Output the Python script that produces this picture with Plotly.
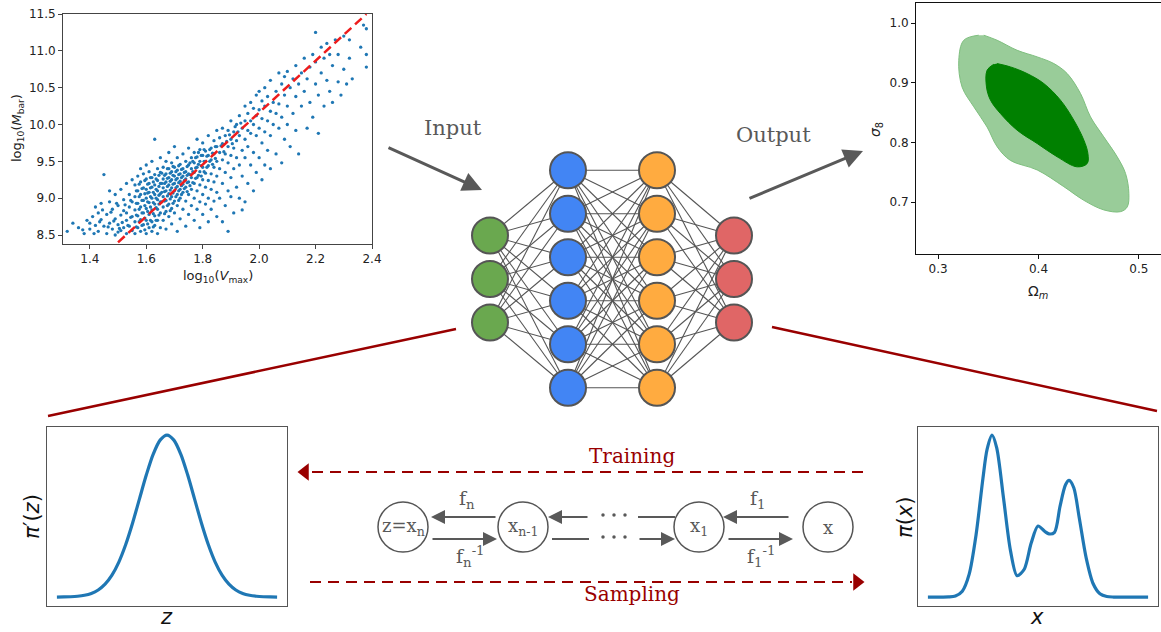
import plotly.graph_objects as go

W, H = 1161, 632

# ---------------------------------------------------------------------------
# Galaxy sample: log10(Vmax) vs log10(Mbar), grouped by Vmax band
band_a = [(1.32, 8.55), (1.34, 8.66), (1.36, 8.60), (1.38, 8.52), (1.39, 8.70), (1.40, 8.58),
          (1.41, 8.75), (1.42, 8.63), (1.42, 8.88), (1.43, 8.55), (1.44, 8.71), (1.44, 8.93),
          (1.45, 8.62), (1.45, 9.32), (1.43, 8.80), (1.40, 8.66), (1.375, 8.57), (1.415, 8.52),
          (1.435, 8.68), (1.445, 8.84)]
band_b = [(1.46, 8.52), (1.46, 8.78), (1.47, 8.66), (1.47, 8.95), (1.48, 8.58), (1.48, 8.85),
          (1.49, 8.72), (1.49, 9.05), (1.50, 8.54), (1.50, 8.64), (1.50, 8.90), (1.51, 8.77),
          (1.51, 9.12), (1.52, 8.60), (1.52, 8.83), (1.52, 8.98), (1.53, 8.52), (1.53, 8.70),
          (1.53, 9.20), (1.54, 8.88), (1.54, 8.62), (1.54, 9.05), (1.55, 8.56), (1.55, 8.75),
          (1.55, 8.95), (1.55, 9.25), (1.47, 9.10), (1.49, 8.50), (1.51, 8.56), (1.53, 8.80),
          (1.465, 8.61), (1.475, 8.81), (1.485, 8.69), (1.495, 8.93), (1.505, 8.59),
          (1.515, 8.67), (1.525, 8.91), (1.535, 8.63), (1.545, 8.74), (1.545, 8.97)]
band_c = [(1.56, 8.52), (1.56, 8.68), (1.56, 8.84), (1.56, 9.02), (1.56, 9.18), (1.57, 8.60),
          (1.57, 8.76), (1.57, 8.93), (1.57, 9.10), (1.57, 9.30), (1.58, 8.55), (1.58, 8.71),
          (1.58, 8.88), (1.58, 9.05), (1.58, 9.22), (1.58, 9.40), (1.59, 8.64), (1.59, 8.80),
          (1.59, 8.97), (1.59, 9.14), (1.59, 9.33), (1.60, 8.52), (1.60, 8.70), (1.60, 8.86),
          (1.60, 9.00), (1.60, 9.12), (1.60, 9.26), (1.60, 9.45), (1.61, 8.60), (1.61, 8.78),
          (1.61, 8.94), (1.61, 9.08), (1.61, 9.20), (1.61, 9.36), (1.62, 8.55), (1.62, 8.68),
          (1.62, 8.84), (1.62, 9.00), (1.62, 9.15), (1.62, 9.28), (1.62, 9.50), (1.63, 8.63),
          (1.63, 8.76), (1.63, 8.92), (1.63, 9.05), (1.63, 9.18), (1.63, 9.32), (1.63, 9.80),
          (1.64, 8.52), (1.64, 8.70), (1.64, 8.85), (1.64, 8.98), (1.64, 9.10), (1.64, 9.24),
          (1.64, 9.40), (1.65, 8.60), (1.65, 8.80), (1.65, 8.95), (1.65, 9.06), (1.65, 9.20),
          (1.65, 9.35), (1.65, 9.55)]
band_c2 = [(1.565, 8.61), (1.565, 8.77), (1.565, 8.93), (1.565, 9.10), (1.575, 8.68),
           (1.575, 8.85), (1.575, 9.02), (1.575, 9.19), (1.585, 8.63), (1.585, 8.80),
           (1.585, 8.97), (1.585, 9.13), (1.595, 8.57), (1.595, 8.73), (1.595, 8.90),
           (1.595, 9.06), (1.595, 9.24), (1.605, 8.65), (1.605, 8.82), (1.605, 8.95),
           (1.605, 9.07), (1.605, 9.19), (1.615, 8.70), (1.615, 8.88), (1.615, 9.02),
           (1.615, 9.14), (1.615, 9.28), (1.625, 8.61), (1.625, 8.79), (1.625, 8.94),
           (1.625, 9.08), (1.625, 9.22), (1.635, 8.70), (1.635, 8.87), (1.635, 9.00),
           (1.635, 9.12), (1.635, 9.26), (1.645, 8.77), (1.645, 8.92), (1.645, 9.04),
           (1.645, 9.16), (1.645, 9.31)]
band_d = [(1.66, 8.70), (1.66, 8.88), (1.66, 9.02), (1.66, 9.14), (1.66, 9.26), (1.66, 9.42),
          (1.67, 8.58), (1.67, 8.82), (1.67, 8.97), (1.67, 9.10), (1.67, 9.22), (1.67, 9.33),
          (1.67, 9.50), (1.68, 8.75), (1.68, 8.92), (1.68, 9.06), (1.68, 9.18), (1.68, 9.28),
          (1.68, 9.40), (1.68, 9.62), (1.69, 8.65), (1.69, 8.86), (1.69, 9.02), (1.69, 9.14),
          (1.69, 9.25), (1.69, 9.36), (1.69, 9.48), (1.70, 8.80), (1.70, 8.96), (1.70, 9.10),
          (1.70, 9.20), (1.70, 9.30), (1.70, 9.42), (1.70, 9.70), (1.71, 8.55), (1.71, 8.90),
          (1.71, 9.05), (1.71, 9.16), (1.71, 9.27), (1.71, 9.38), (1.71, 9.55), (1.72, 8.72),
          (1.72, 9.00), (1.72, 9.12), (1.72, 9.23), (1.72, 9.33), (1.72, 9.46), (1.73, 8.85),
          (1.73, 9.08), (1.73, 9.19), (1.73, 9.30), (1.73, 9.40), (1.73, 9.60), (1.74, 8.62),
          (1.74, 8.96), (1.74, 9.15), (1.74, 9.26), (1.74, 9.36), (1.74, 9.50), (1.75, 8.78),
          (1.75, 9.05), (1.75, 9.22), (1.75, 9.33), (1.75, 9.45), (1.75, 9.68)]
band_d2 = [(1.655, 8.95), (1.655, 9.08), (1.655, 9.20), (1.655, 9.34), (1.665, 8.79),
           (1.665, 8.96), (1.665, 9.09), (1.665, 9.20), (1.665, 9.31), (1.675, 8.90),
           (1.675, 9.03), (1.675, 9.16), (1.675, 9.27), (1.675, 9.40), (1.685, 8.83),
           (1.685, 8.99), (1.685, 9.11), (1.685, 9.23), (1.685, 9.34), (1.695, 8.93),
           (1.695, 9.07), (1.695, 9.19), (1.695, 9.31), (1.695, 9.43), (1.705, 9.02),
           (1.705, 9.14), (1.705, 9.25), (1.705, 9.36), (1.715, 8.97), (1.715, 9.10),
           (1.715, 9.21), (1.715, 9.32), (1.715, 9.44), (1.725, 9.05), (1.725, 9.17),
           (1.725, 9.28), (1.725, 9.39), (1.735, 9.13), (1.735, 9.24), (1.735, 9.35),
           (1.745, 9.09), (1.745, 9.21), (1.745, 9.31), (1.745, 9.43)]
band_e = [(1.76, 8.90), (1.76, 9.12), (1.76, 9.28), (1.76, 9.40), (1.76, 9.55), (1.77, 8.70),
          (1.77, 9.00), (1.77, 9.20), (1.77, 9.35), (1.77, 9.48), (1.77, 9.62), (1.78, 8.85),
          (1.78, 9.10), (1.78, 9.28), (1.78, 9.42), (1.78, 9.56), (1.78, 9.80), (1.79, 8.60),
          (1.79, 8.95), (1.79, 9.18), (1.79, 9.36), (1.79, 9.50), (1.79, 9.66), (1.80, 8.78),
          (1.80, 9.05), (1.80, 9.25), (1.80, 9.42), (1.80, 9.58), (1.80, 9.75), (1.81, 8.92),
          (1.81, 9.15), (1.81, 9.34), (1.81, 9.50), (1.81, 9.64), (1.82, 8.68), (1.82, 9.00),
          (1.82, 9.24), (1.82, 9.44), (1.82, 9.58), (1.82, 9.85), (1.83, 8.85), (1.83, 9.12),
          (1.83, 9.33), (1.83, 9.52), (1.83, 9.68), (1.84, 8.96), (1.84, 9.22), (1.84, 9.42),
          (1.84, 9.60), (1.84, 9.78), (1.85, 8.75), (1.85, 9.08), (1.85, 9.30), (1.85, 9.50),
          (1.85, 9.70), (1.85, 9.92)]
band_e2 = [(1.755, 9.17), (1.755, 9.32), (1.755, 9.48), (1.765, 9.21), (1.765, 9.36),
           (1.765, 9.50), (1.775, 9.27), (1.775, 9.41), (1.775, 9.55), (1.785, 9.31),
           (1.785, 9.46), (1.785, 9.62), (1.795, 9.30), (1.795, 9.44), (1.795, 9.58),
           (1.805, 9.36), (1.805, 9.50), (1.805, 9.66), (1.815, 9.42), (1.815, 9.57),
           (1.825, 9.50), (1.825, 9.66), (1.835, 9.46), (1.835, 9.61), (1.845, 9.54),
           (1.845, 9.70)]
band_f = [(1.86, 9.00), (1.86, 9.40), (1.86, 9.62), (1.86, 9.82), (1.87, 8.68), (1.87, 9.20),
          (1.87, 9.52), (1.87, 9.74), (1.87, 9.95), (1.88, 8.90), (1.88, 9.35), (1.88, 9.60),
          (1.88, 9.85), (1.89, 9.10), (1.89, 9.48), (1.89, 9.70), (1.89, 9.92), (1.89, 8.55),
          (1.90, 9.28), (1.90, 9.58), (1.90, 9.80), (1.90, 10.05), (1.91, 8.80), (1.91, 9.40),
          (1.91, 9.68), (1.91, 9.90), (1.92, 9.15), (1.92, 9.55), (1.92, 9.78), (1.92, 10.00),
          (1.93, 9.00), (1.93, 9.45), (1.93, 9.85), (1.93, 10.12), (1.94, 9.30), (1.94, 9.65),
          (1.94, 9.95), (1.95, 8.95), (1.95, 9.55), (1.95, 9.80), (1.95, 10.05), (1.95, 10.25),
          (1.94, 8.84), (1.90, 9.02), (1.865, 9.71), (1.875, 9.63), (1.885, 9.77),
          (1.895, 9.86), (1.905, 9.74), (1.915, 9.97), (1.925, 9.90), (1.935, 10.02)]
band_g = [(1.96, 9.20), (1.96, 9.70), (1.96, 9.92), (1.96, 10.15), (1.97, 9.45), (1.97, 9.88),
          (1.97, 10.05), (1.97, 10.30), (1.98, 9.10), (1.98, 9.62), (1.98, 10.00), (1.98, 10.22),
          (1.99, 9.35), (1.99, 9.85), (1.99, 10.12), (1.99, 10.40), (2.00, 9.55), (2.00, 9.95),
          (2.00, 10.20), (2.00, 10.45), (2.01, 9.25), (2.01, 9.75), (2.01, 10.08), (2.01, 10.32),
          (2.02, 9.45), (2.02, 9.90), (2.02, 10.25), (2.02, 10.50), (2.03, 9.65), (2.03, 10.05),
          (2.03, 10.38), (2.04, 9.40), (2.04, 9.85), (2.04, 10.18), (2.04, 10.60), (2.05, 10.00),
          (2.05, 10.30)]
band_h = [(2.06, 9.60), (2.06, 10.15), (2.06, 10.45), (2.07, 9.95), (2.07, 10.28), (2.07, 10.70),
          (2.08, 9.48), (2.08, 10.10), (2.08, 10.55), (2.09, 9.80), (2.09, 10.40), (2.09, 10.65),
          (2.10, 10.00), (2.10, 10.25), (2.10, 10.72), (2.11, 9.70), (2.11, 10.50), (2.12, 10.15),
          (2.12, 10.62), (2.13, 9.92), (2.13, 10.38), (2.13, 10.80), (2.14, 10.55), (2.14, 9.60),
          (2.15, 10.25), (2.15, 10.70)]
band_i = [(2.16, 10.45), (2.16, 10.90), (2.17, 9.95), (2.17, 10.62), (2.18, 10.30), (2.18, 10.78),
          (2.19, 10.10), (2.19, 10.95), (2.20, 10.55), (2.20, 10.85), (2.21, 9.88), (2.21, 10.40),
          (2.22, 10.70), (2.22, 11.05), (2.23, 10.25), (2.23, 10.90), (2.24, 10.60), (2.24, 11.10),
          (2.25, 10.45), (2.25, 10.95)]
band_j = [(2.26, 10.30), (2.26, 10.80), (2.27, 11.15), (2.28, 10.58), (2.28, 10.95), (2.29, 10.40),
          (2.30, 10.75), (2.30, 11.20), (2.31, 10.55), (2.32, 10.90), (2.32, 11.15), (2.33, 10.62),
          (2.36, 11.05), (2.37, 11.35), (2.38, 10.95), (2.38, 10.78), (2.38, 11.30), (2.20, 11.25)]

# Best-fit relation
fit_logv = [1.50, 2.38]
fit_logm = [8.40, 11.50]

# ---------------------------------------------------------------------------
# Posterior on (Omega_m, sigma_8): outer and inner credible regions
omega_outer = [0.3405, 0.3256, 0.3206, 0.3239, 0.3355, 0.3488, 0.3588, 0.372, 0.3987, 0.4252,
               0.4452, 0.465, 0.4817, 0.4884, 0.490, 0.4867, 0.4784, 0.465, 0.4518, 0.4419,
               0.4286, 0.4153, 0.3987, 0.3787, 0.3588, 0.3455]
sigma_outer = [0.980, 0.9715, 0.938, 0.893, 0.860, 0.826, 0.793, 0.770, 0.754, 0.726,
               0.703, 0.687, 0.684, 0.692, 0.7145, 0.748, 0.776, 0.8095, 0.843, 0.882,
               0.9156, 0.9324, 0.9436, 0.9547, 0.9715, 0.980]
omega_inner = [0.3555, 0.3488, 0.3482, 0.3522, 0.3621, 0.3787, 0.3987, 0.4186, 0.4385, 0.4485,
               0.4492, 0.4452, 0.4352, 0.4219, 0.4053, 0.3887, 0.3721, 0.3588]
sigma_inner = [0.9313, 0.9212, 0.8933, 0.871, 0.8486, 0.8207, 0.7983, 0.776, 0.7592, 0.7648,
               0.7816, 0.8039, 0.8374, 0.871, 0.8989, 0.9156, 0.9268, 0.9324]

# ---------------------------------------------------------------------------
# Base density pi'(z) and target density pi(x)
z_grid = [-4.0, -3.75, -3.5, -3.25, -3.0, -2.75, -2.5, -2.25, -2.0, -1.75, -1.5, -1.25, -1.0,
          -0.75, -0.5, -0.25, 0.0, 0.25, 0.5, 0.75, 1.0, 1.25, 1.5, 1.75, 2.0, 2.25, 2.5,
          2.75, 3.0, 3.25, 3.5, 3.75, 4.0]
pz_vals = [0.0003, 0.0009, 0.0022, 0.0051, 0.0111, 0.0228, 0.0439, 0.0796, 0.1353, 0.2163,
           0.3247, 0.4578, 0.6065, 0.7548, 0.8825, 0.969, 1.0, 0.969, 0.8825, 0.7548, 0.6065,
           0.4578, 0.3247, 0.2163, 0.1353, 0.0796, 0.0439, 0.0228, 0.0111, 0.0051, 0.0022,
           0.0009, 0.0003]

x_grid = [-4.0, -3.75, -3.5, -3.25, -3.0, -2.75, -2.5, -2.25, -2.0, -1.85, -1.67, -1.5, -1.25,
          -1.0, -0.76, -0.5, -0.25, 0.0, 0.25, 0.4, 0.6, 0.8, 1.0, 1.13, 1.3, 1.5, 1.75,
          2.0, 2.25, 2.5, 2.75, 3.0, 3.5, 4.0]
px_vals = [0.0, 0.0, 0.0001, 0.0009, 0.0067, 0.0366, 0.142, 0.385, 0.734, 0.912, 1.0, 0.921,
           0.607, 0.287, 0.132, 0.172, 0.332, 0.439, 0.405, 0.39, 0.40, 0.56, 0.693, 0.72,
           0.675, 0.488, 0.242, 0.084, 0.0206, 0.0035, 0.0004, 0.0, 0.0, 0.0]

# ---------------------------------------------------------------------------
# Network and flow diagram
layer_sizes = [3, 6, 6, 3]
layer_colors = ["#6aa84f", "#4285f4", "#ffab40", "#e06666"]
flow_labels = ["z=x<sub>n</sub>", "x<sub>n-1</sub>", "x<sub>1</sub>", "x"]

# Layout constants (pixel positions on the canvas)
layer_x = [490, 568, 657, 734]
node_gap = 43.5
net_cy = 279
flow_x = [403, 523, 699, 828]
flow_y = 527
ellipsis_x = [603, 614, 625]

GRAY = "#595959"
DARKRED = "#990000"
SERIF = "DejaVu Serif"
SANS = "DejaVu Sans"


def dom_x(a, b):
    return [a / W, b / W]


def dom_y(top, bottom):
    return [1 - bottom / H, 1 - top / H]


fig = go.Figure()

# ---- scatter panel
all_pts = (band_a + band_b + band_c + band_c2 + band_d + band_d2 + band_e + band_e2
           + band_f + band_g + band_h + band_i + band_j)
fig.add_trace(go.Scatter(x=[p[0] for p in all_pts], y=[p[1] for p in all_pts], mode="markers",
                         marker=dict(size=3.3, color="#1f77b4"), xaxis="x", yaxis="y",
                         hoverinfo="skip"))
fig.add_trace(go.Scatter(x=fit_logv, y=fit_logm, mode="lines",
                         line=dict(color="#ee1c1c", width=2.5, dash="9px,5px"),
                         xaxis="x", yaxis="y", hoverinfo="skip"))

# ---- posterior panel
fig.add_trace(go.Scatter(x=omega_outer, y=sigma_outer, mode="lines", fill="toself",
                         fillcolor="#99cc99", line=dict(color="#7fbf7f", width=1, shape="spline",
                                                         smoothing=1.0),
                         xaxis="x2", yaxis="y2", hoverinfo="skip"))
fig.add_trace(go.Scatter(x=omega_inner, y=sigma_inner, mode="lines", fill="toself",
                         fillcolor="#008000", line=dict(color="#008000", width=1, shape="spline",
                                                         smoothing=1.0),
                         xaxis="x2", yaxis="y2", hoverinfo="skip"))

# ---- density panels
fig.add_trace(go.Scatter(x=z_grid, y=pz_vals, mode="lines",
                         line=dict(color="#1f77b4", width=3.2, shape="spline", smoothing=0.8),
                         xaxis="x3", yaxis="y3", hoverinfo="skip"))
fig.add_trace(go.Scatter(x=x_grid, y=px_vals, mode="lines",
                         line=dict(color="#1f77b4", width=3.2, shape="spline", smoothing=0.8),
                         xaxis="x4", yaxis="y4", hoverinfo="skip"))


# ---- diagram canvas (pixel coordinates)
def node_ys(n):
    return [net_cy + (i - (n - 1) / 2) * node_gap for i in range(n)]


# network edges
ex, ey = [], []
for li in range(len(layer_sizes) - 1):
    for ya in node_ys(layer_sizes[li]):
        for yb in node_ys(layer_sizes[li + 1]):
            ex += [layer_x[li], layer_x[li + 1], None]
            ey += [ya, yb, None]
fig.add_trace(go.Scatter(x=ex, y=ey, mode="lines", line=dict(color="#555555", width=1.1),
                         xaxis="x5", yaxis="y5", hoverinfo="skip"))
# network nodes
for li, n in enumerate(layer_sizes):
    fig.add_trace(go.Scatter(x=[layer_x[li]] * n, y=node_ys(n), mode="markers",
                             marker=dict(size=36, color=layer_colors[li],
                                         line=dict(color="#555555", width=2)),
                             xaxis="x5", yaxis="y5", hoverinfo="skip"))

# dark red connector lines
fig.add_trace(go.Scatter(x=[48, 456, None, 772, 1157], y=[416, 329, None, 327, 411], mode="lines",
                         line=dict(color=DARKRED, width=2.5), xaxis="x5", yaxis="y5",
                         hoverinfo="skip"))

# training / sampling dashed arrows
fig.add_trace(go.Scatter(x=[312, 864, None, 310, 852], y=[472, 472, None, 582, 582], mode="lines",
                         line=dict(color=DARKRED, width=2, dash="11px,7px"),
                         xaxis="x5", yaxis="y5", hoverinfo="skip"))
fig.add_trace(go.Scatter(x=[305, 857], y=[472, 582], mode="markers",
                         marker=dict(symbol=["triangle-left", "triangle-right"], size=15,
                                     color=DARKRED),
                         xaxis="x5", yaxis="y5", hoverinfo="skip"))

# flow nodes
fig.add_trace(go.Scatter(x=flow_x, y=[flow_y] * 4, mode="markers",
                         marker=dict(size=50, color="white", line=dict(color="#555555", width=1.5)),
                         xaxis="x5", yaxis="y5", hoverinfo="skip"))
# plain segments around the ellipsis, and the ellipsis dots
fig.add_trace(go.Scatter(x=[638, 675, None, 552, 589], y=[517, 517, None, 539, 539], mode="lines",
                         line=dict(color=GRAY, width=2), xaxis="x5", yaxis="y5",
                         hoverinfo="skip"))
fig.add_trace(go.Scatter(x=ellipsis_x + ellipsis_x, y=[515] * 3 + [537] * 3, mode="markers",
                         marker=dict(size=3.5, color=GRAY), xaxis="x5", yaxis="y5",
                         hoverinfo="skip"))

annotations = []


def arrow(x_tail, y_tail, x_head, y_head, width, size):
    annotations.append(dict(x=x_head, y=y_head, ax=x_tail, ay=y_tail, xref="x5", yref="y5",
                            axref="x5", ayref="y5", text="", showarrow=True, arrowhead=2,
                            arrowsize=size, arrowwidth=width, arrowcolor=GRAY, standoff=0))


def label(x, y, text, size, color, family=SERIF, angle=0):
    annotations.append(dict(x=x, y=y, xref="x5", yref="y5", text=text, showarrow=False,
                            font=dict(size=size, color=color, family=family),
                            textangle=angle, xanchor="center", yanchor="middle"))


# Input / Output arrows
arrow(387, 147, 482, 190, 3, 1.3)
arrow(748, 199, 863, 151, 3, 1.3)
label(453, 128, "Input", 21, GRAY)
label(773, 135, "Output", 21, GRAY)

# flow arrows
arrow(497, 517, 431, 517, 2, 1.4)
arrow(431, 539, 497, 539, 2, 1.4)
arrow(589, 517, 548, 517, 2, 1.4)
arrow(638, 539, 675, 539, 2, 1.4)
arrow(790, 517, 723, 517, 2, 1.4)
arrow(727, 539, 793, 539, 2, 1.4)

for fx, txt in zip(flow_x, flow_labels):
    label(fx, flow_y, txt, 18, GRAY)

label(467, 499, "f<sub>n</sub>", 19, GRAY)
label(470, 556, "f<sub>n</sub><sup>-1</sup>", 19, GRAY)
label(758, 499, "f<sub>1</sub>", 19, GRAY)
label(761, 556, "f<sub>1</sub><sup>-1</sup>", 19, GRAY)

label(632, 456, "Training", 20, DARKRED)
label(632, 594, "Sampling", 20, DARKRED)

# panel axis titles
label(218, 276, "log<sub>10</sub>(<i>V</i><sub>max</sub>)", 13, "#222222", SANS)
label(17, 128, "log<sub>10</sub>(<i>M</i><sub>bar</sub>)", 13, "#222222", SANS, -90)
label(1038, 292, "Ω<sub><i>m</i></sub>", 14, "#222222", SANS)
label(876, 130, "<i>σ</i><sub>8</sub>", 14, "#222222", SANS, -90)
label(166, 617, "<i>z</i>", 21, "#111111", SANS)
label(32, 517, "<i>π</i>′(<i>z</i>)", 21, "#111111", SANS, -90)
label(1037, 617, "<i>x</i>", 21, "#111111", SANS)
label(905, 517, "<i>π</i>(<i>x</i>)", 21, "#111111", SANS, -90)

tick_font = dict(family=SANS, size=12, color="#222222")


def panel_axis(domain, rng, line_color, mirror=True, ticks=None, fmt=None):
    ax = dict(domain=domain, range=rng, showgrid=False, zeroline=False, showline=True,
              linecolor=line_color, linewidth=1, mirror=mirror, tickfont=tick_font,
              automargin=False)
    if ticks is None:
        ax.update(showticklabels=False, ticks="")
    else:
        ax.update(tickvals=ticks, ticktext=[fmt % t for t in ticks], ticks="outside",
                  ticklen=4, tickwidth=1, tickcolor=line_color)
    return ax


fig.update_layout(
    width=W, height=H, autosize=False,
    margin=dict(l=0, r=0, t=0, b=0, pad=0, autoexpand=False),
    paper_bgcolor="white", plot_bgcolor="rgba(0,0,0,0)",
    showlegend=False,
    annotations=annotations,
    xaxis=dict(**panel_axis(dom_x(63, 372), [1.305, 2.40], "#444444",
                            ticks=[1.4, 1.6, 1.8, 2.0, 2.2, 2.4], fmt="%.1f"), anchor="y"),
    yaxis=dict(**panel_axis(dom_y(14, 244), [8.378, 11.5], "#444444",
                            ticks=[8.5, 9.0, 9.5, 10.0, 10.5, 11.0, 11.5], fmt="%.1f"), anchor="x"),
    xaxis2=dict(**panel_axis(dom_x(916, 1161), [0.278, 0.522], "#111111",
                             ticks=[0.3, 0.4, 0.5], fmt="%.1f"), anchor="y2"),
    yaxis2=dict(**panel_axis(dom_y(3, 254), [0.613, 1.034], "#111111", mirror=False,
                             ticks=[0.7, 0.8, 0.9, 1.0], fmt="%.1f"), anchor="x2"),
    xaxis3=dict(**panel_axis(dom_x(47, 287), [-4.36, 4.36], "#555555"), anchor="y3"),
    yaxis3=dict(**panel_axis(dom_y(427, 606), [-0.055, 1.05], "#555555"), anchor="x3"),
    xaxis4=dict(**panel_axis(dom_x(918, 1158), [-4.36, 4.36], "#555555"), anchor="y4"),
    yaxis4=dict(**panel_axis(dom_y(427, 606), [-0.055, 1.05], "#555555"), anchor="x4"),
    xaxis5=dict(domain=[0, 1], range=[0, W], visible=False, anchor="y5", automargin=False),
    yaxis5=dict(domain=[0, 1], range=[H, 0], visible=False, anchor="x5", automargin=False),
)

fig.write_html("out.html")
